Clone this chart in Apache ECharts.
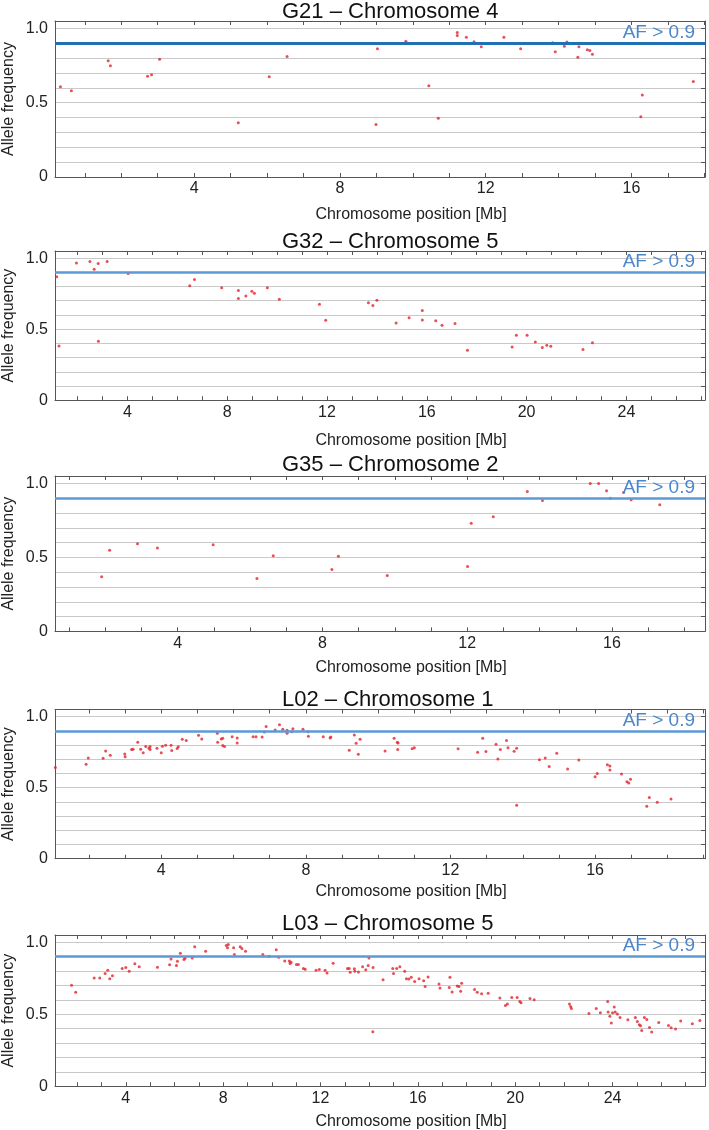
<!DOCTYPE html>
<html><head><meta charset="utf-8">
<script src="https://cdn.jsdelivr.net/npm/echarts@6/dist/echarts.min.js"></script>
<style>html,body{margin:0;padding:0;background:#fff}#c{width:709px;height:1130px}</style>
</head><body><div id="c"></div>
<script>
// ---- data: [position (Mb), allele frequency] ----
const g21Points = [[0.33,0.608],[0.63,0.581],[1.64,0.782],[1.70,0.748],[2.72,0.678],[2.83,0.689],[3.05,0.793],[5.21,0.365],[6.06,0.674],[6.55,0.811],[8.99,0.353],[9.03,0.863],[9.81,0.914],[10.44,0.615],[10.70,0.396],[11.22,0.973],[11.22,0.953],[11.47,0.941],[11.68,0.910],[11.88,0.876],[12.50,0.941],[12.96,0.863],[13.11,0.899],[13.84,0.903],[13.91,0.843],[14.16,0.880],[14.23,0.909],[14.53,0.806],[14.56,0.876],[14.79,0.856],[14.86,0.851],[14.93,0.826],[16.26,0.405],[16.30,0.552],[17.70,0.642]];
const g32Points = [[1.17,0.868],[1.26,0.382],[1.96,0.965],[2.50,0.976],[2.67,0.922],[2.83,0.962],[2.84,0.415],[3.19,0.976],[4.03,0.891],[6.50,0.805],[6.69,0.849],[7.78,0.791],[8.45,0.772],[8.45,0.715],[8.75,0.734],[8.99,0.767],[9.09,0.753],[9.61,0.791],[10.09,0.711],[11.70,0.676],[11.95,0.563],[13.66,0.685],[13.84,0.666],[14.00,0.704],[14.77,0.544],[15.29,0.581],[15.82,0.631],[15.82,0.565],[16.36,0.560],[16.61,0.528],[17.13,0.539],[17.63,0.352],[19.42,0.375],[19.59,0.457],[20.02,0.457],[20.35,0.410],[20.63,0.370],[20.81,0.387],[20.97,0.380],[22.26,0.356],[22.64,0.405]];
const g35Points = [[1.90,0.369],[2.12,0.549],[2.89,0.592],[3.44,0.563],[4.98,0.585],[6.19,0.358],[6.64,0.511],[8.26,0.419],[8.44,0.507],[9.79,0.378],[12.01,0.439],[12.11,0.730],[12.72,0.774],[13.66,0.946],[14.08,0.885],[15.40,1.000],[15.63,1.000],[15.85,0.950],[15.95,0.899],[16.32,0.939],[16.53,0.889],[17.32,0.855]];
const l02Points = [[1.07,0.641],[1.92,0.665],[1.98,0.709],[2.39,0.707],[2.46,0.758],[2.59,0.728],[2.99,0.737],[3.00,0.718],[3.18,0.768],[3.22,0.770],[3.35,0.820],[3.43,0.770],[3.50,0.746],[3.57,0.789],[3.66,0.777],[3.69,0.768],[3.69,0.789],[3.88,0.777],[4.00,0.746],[4.03,0.792],[4.12,0.799],[4.27,0.799],[4.29,0.761],[4.44,0.775],[4.47,0.787],[4.58,0.841],[4.69,0.831],[5.03,0.869],[5.12,0.843],[5.55,0.883],[5.56,0.820],[5.66,0.843],[5.70,0.848],[5.70,0.796],[5.75,0.789],[5.96,0.859],[6.10,0.850],[6.10,0.815],[6.54,0.859],[6.62,0.859],[6.79,0.857],[6.85,0.892],[6.90,0.930],[7.15,0.906],[7.27,0.942],[7.36,0.911],[7.48,0.904],[7.48,0.883],[7.61,0.894],[7.64,0.915],[7.92,0.911],[8.06,0.894],[8.07,0.862],[8.48,0.859],[8.67,0.850],[8.69,0.857],[9.20,0.763],[9.34,0.871],[9.39,0.813],[9.45,0.735],[9.50,0.841],[10.19,0.758],[10.44,0.848],[10.53,0.820],[10.55,0.815],[10.54,0.768],[10.94,0.773],[11.00,0.780],[12.21,0.773],[12.75,0.749],[12.89,0.848],[12.98,0.754],[13.26,0.806],[13.31,0.702],[13.38,0.768],[13.55,0.831],[13.59,0.780],[13.76,0.756],[13.83,0.777],[13.83,0.376],[14.46,0.697],[14.62,0.709],[14.73,0.648],[14.94,0.742],[15.24,0.632],[15.55,0.695],[16.00,0.577],[16.06,0.599],[16.34,0.662],[16.41,0.653],[16.41,0.625],[16.73,0.596],[16.88,0.542],[16.93,0.533],[16.98,0.559],[17.43,0.369],[17.50,0.430],[17.72,0.397],[18.10,0.420]];
const l03Points = [[1.77,0.701],[1.94,0.652],[2.70,0.752],[2.93,0.752],[3.15,0.782],[3.26,0.805],[3.34,0.747],[3.45,0.768],[3.85,0.817],[4.00,0.824],[4.14,0.798],[4.37,0.850],[4.55,0.829],[5.30,0.826],[5.80,0.843],[5.86,0.884],[6.08,0.838],[6.12,0.868],[6.24,0.923],[6.39,0.880],[6.43,0.889],[6.73,0.891],[6.83,0.968],[7.28,0.937],[8.13,0.977],[8.18,0.961],[8.21,0.984],[8.43,0.961],[8.46,0.914],[8.70,0.968],[8.77,0.956],[8.92,0.937],[9.63,0.914],[9.89,0.903],[10.18,0.947],[10.28,0.896],[10.53,0.870],[10.72,0.870],[10.75,0.852],[10.79,0.861],[11.01,0.845],[11.09,0.845],[11.30,0.817],[11.37,0.812],[11.82,0.805],[11.95,0.810],[12.19,0.805],[12.27,0.787],[12.52,0.854],[13.11,0.817],[13.18,0.817],[13.22,0.791],[13.39,0.815],[13.41,0.798],[13.56,0.794],[13.73,0.829],[13.86,0.808],[13.96,0.838],[13.99,0.891],[14.16,0.824],[14.15,0.378],[14.57,0.740],[14.97,0.817],[15.00,0.782],[15.13,0.817],[15.26,0.829],[15.46,0.798],[15.53,0.747],[15.63,0.745],[15.73,0.756],[15.87,0.728],[16.05,0.747],[16.24,0.733],[16.30,0.692],[16.42,0.759],[16.87,0.710],[16.91,0.682],[17.29,0.685],[17.32,0.756],[17.41,0.655],[17.62,0.696],[17.69,0.692],[17.76,0.659],[17.80,0.715],[18.33,0.671],[18.44,0.652],[18.62,0.643],[18.89,0.645],[19.37,0.613],[19.60,0.561],[19.68,0.571],[19.86,0.617],[20.08,0.617],[20.19,0.589],[20.24,0.580],[20.61,0.610],[20.78,0.601],[22.23,0.571],[22.28,0.554],[22.31,0.540],[23.03,0.506],[23.33,0.540],[23.50,0.510],[23.80,0.589],[23.82,0.515],[23.89,0.487],[23.95,0.439],[24.00,0.510],[24.07,0.550],[24.11,0.515],[24.20,0.501],[24.31,0.478],[24.63,0.462],[24.94,0.478],[25.02,0.450],[25.10,0.427],[25.15,0.420],[25.20,0.387],[25.31,0.478],[25.41,0.464],[25.52,0.408],[25.61,0.376],[25.90,0.443],[26.30,0.422],[26.41,0.406],[26.59,0.397],[26.80,0.453],[27.28,0.434],[27.59,0.457]];

const panelTitles = ['G21 – Chromosome 4','G32 – Chromosome 5','G35 – Chromosome 2','L02 – Chromosome 1','L03 – Chromosome 5'];
const xTickLabelsShort = [4,8,12,16];
const xTickLabelsLong = [4,8,12,16,20,24];
const yTickLabels = [0,0.5,1.0];
const threshold = 0.9;
const thresholdLabel = 'AF > 0.9';
const xAxisTitle = 'Chromosome position [Mb]';
const yAxisTitle = 'Allele frequency';

// ---- layout / style ----
const FONT = '"Liberation Sans", Arial, Helvetica, sans-serif';
const layout = [
  {pts:g21Points, top:21,  h:156,   xmin:0.18, xmax:18.02, ticks:xTickLabelsShort, titleTop:1,   nameGap:30, lc:'#2170b6', lw:3},
  {pts:g32Points, top:251, h:149.2, xmin:1.10, xmax:27.15, ticks:xTickLabelsLong,  titleTop:231, nameGap:32, lc:'#5b9ad7', lw:2.5},
  {pts:g35Points, top:476, h:155.4, xmin:0.61, xmax:18.57, ticks:xTickLabelsShort, titleTop:454, nameGap:28, lc:'#5b9ad7', lw:2.5},
  {pts:l02Points, top:709.5, h:149.2, xmin:1.06, xmax:19.04, ticks:xTickLabelsShort, titleTop:689, nameGap:25, lc:'#5b9ad7', lw:2.5},
  {pts:l03Points, top:935, h:151.3, xmin:1.09, xmax:27.80, ticks:xTickLabelsLong,  titleTop:913, nameGap:27, lc:'#5b9ad7', lw:2.5}
];
const FRAME = '#555';
const GRIDC = '#c9c9c9';

function intTicks(a,b){const r=[];for(let v=Math.ceil(a);v<=Math.floor(b);v++)r.push(v);return r;}

const option = {animation:false, backgroundColor:'#fff', title:[], grid:[], xAxis:[], yAxis:[], series:[]};
layout.forEach((p,i)=>{
  option.title.push({text:panelTitles[i], left:282, top:p.titleTop, padding:0,
    textStyle:{fontFamily:FONT, fontSize:22, fontWeight:'normal', color:'#111'}});
  option.grid.push({left:55, top:p.top, width:650, height:p.h, containLabel:false, outerBoundsMode:'none'});
  const minorTicks = intTicks(p.xmin, p.xmax);
  option.xAxis.push({type:'value', gridIndex:i, position:'bottom', min:p.xmin, max:p.xmax, z:3,
    name:xAxisTitle, nameLocation:'middle', nameGap:p.nameGap, nameMoveOverlap:false,
    nameTextStyle:{fontFamily:FONT, fontSize:16, color:'#222', padding:[0,0,0,62]},
    axisLine:{show:true, onZero:false, lineStyle:{color:FRAME, width:1}},
    axisTick:{show:true, inside:true, length:4, customValues:minorTicks, lineStyle:{color:FRAME}},
    axisLabel:{show:true, customValues:p.ticks, margin:4, fontFamily:FONT, fontSize:16, color:'#222'},
    splitLine:{show:false}});
  option.xAxis.push({type:'value', gridIndex:i, position:'top', min:p.xmin, max:p.xmax, z:3,
    axisLine:{show:true, onZero:false, lineStyle:{color:FRAME, width:1}},
    axisTick:{show:true, inside:true, length:4, customValues:minorTicks, lineStyle:{color:FRAME}},
    axisLabel:{show:false}, splitLine:{show:false}});
  option.yAxis.push({type:'value', gridIndex:i, position:'left', min:0, max:1.05, interval:0.1, z:3,
    name:yAxisTitle, nameLocation:'middle', nameGap:38, nameMoveOverlap:false,
    nameTextStyle:{fontFamily:FONT, fontSize:16, color:'#222'},
    axisLine:{show:true, onZero:false, lineStyle:{color:FRAME, width:1}},
    axisTick:{show:false},
    axisLabel:{show:true, customValues:yTickLabels, margin:7, fontFamily:FONT, fontSize:16, color:'#222',
      formatter:v=> v===0 ? '0' : v.toFixed(1)},
    splitLine:{show:true, showMinLine:false, showMaxLine:false, lineStyle:{color:GRIDC, width:1}}});
  option.yAxis.push({type:'value', gridIndex:i, position:'right', min:0, max:1.05, interval:0.1, z:3,
    axisLine:{show:true, onZero:false, lineStyle:{color:FRAME, width:1}},
    axisTick:{show:true, inside:true, length:4, lineStyle:{color:FRAME}},
    axisLabel:{show:false}, splitLine:{show:false}});
  option.series.push({type:'scatter', xAxisIndex:2*i, yAxisIndex:2*i, data:p.pts,
    symbol:'circle', symbolSize:3, itemStyle:{color:'#e5222c'}, silent:true, z:4,
    markLine:{silent:true, symbol:['none','none'], animation:false,
      data:[{yAxis:threshold}],
      lineStyle:{color:p.lc, width:p.lw, type:'solid'},
      label:{show:true, position:'insideEndTop', formatter:thresholdLabel, distance:[10,1],
        fontFamily:FONT, fontSize:19, color:'#4a87cd'}}});
});
const chart = echarts.init(document.getElementById('c'), null, {renderer:'canvas'});
chart.setOption(option);
</script></body></html>
